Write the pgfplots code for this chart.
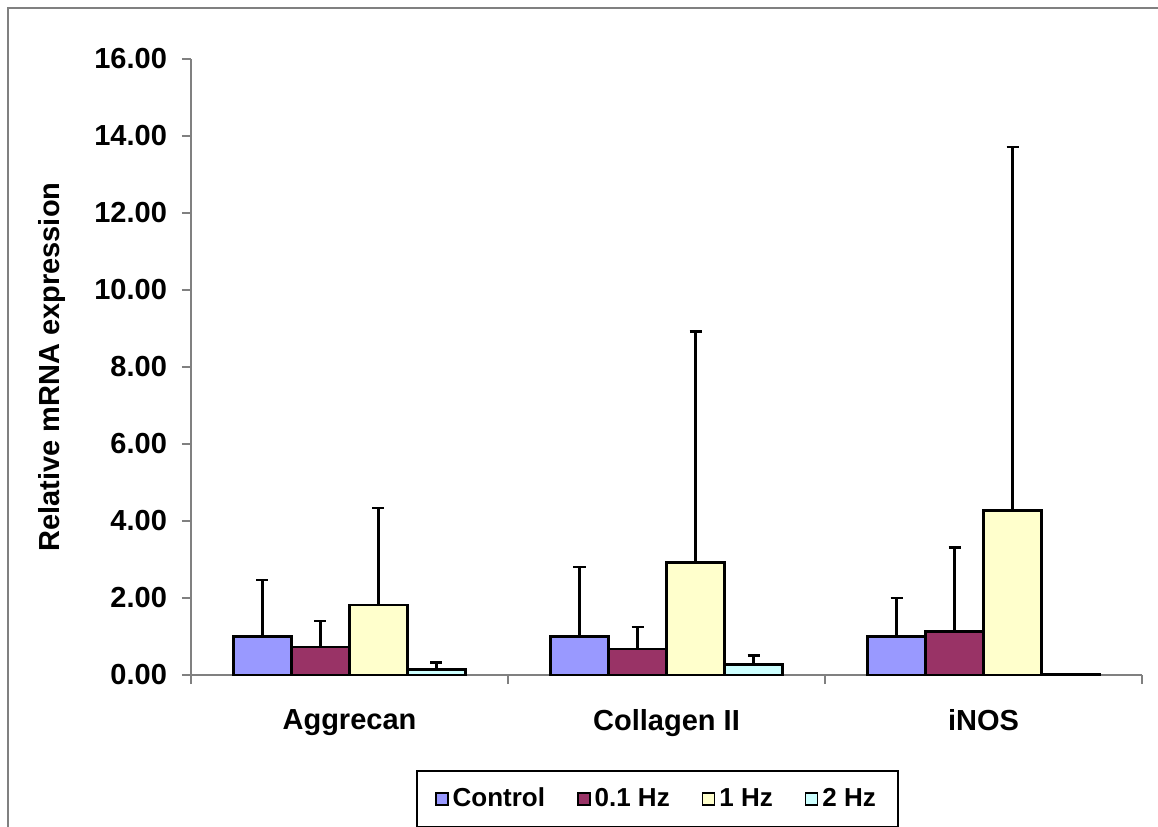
\documentclass[border=0pt]{standalone}
\usepackage{pgfplots}
\pgfplotsset{compat=1.18}
\usepackage{fontspec}
\setmainfont{Liberation Sans}
\definecolor{cCtrl}{HTML}{9999FF}
\definecolor{cA}{HTML}{993366}
\definecolor{cB}{HTML}{FFFFCC}
\definecolor{cC}{HTML}{CCFFFF}
\definecolor{axg}{HTML}{808080}
\begin{document}
\begin{tikzpicture}
\begin{axis}[
  scale only axis,
  width=475.5pt, height=308pt,
  xmin=0.5, xmax=3.5, ymin=0, ymax=16,
  axis x line*=bottom, axis y line*=left,
  axis line style={axg, line width=0.6pt},
  ybar=0pt, bar width=29pt,
  xtick={1,2,3},
  xticklabels={Aggrecan, Collagen II, iNOS},
  major x tick style={draw=none},
  minor xtick={0.5,1.5,2.5,3.5},
  minor tick length=4.5pt,
  minor x tick style={axg, line width=0.6pt},
  ytick={0,2,...,16},
  major tick length=4.5pt,
  y tick style={axg, line width=0.6pt},
  tick align=outside,
  /pgf/number format/.cd, fixed, fixed zerofill, precision=2, assume math mode=true,
  /pgfplots/.cd,
  yticklabel style={font=\bfseries\fontsize{14.5}{17}\selectfont, xshift=-4pt},
  xticklabel style={font=\bfseries\fontsize{14.5}{17}\selectfont, yshift=-9pt},
  ylabel={Relative mRNA expression},
  ylabel style={font=\bfseries\fontsize{14.5}{17}\selectfont, at={(axis description cs:-0.1462,0.5)}, anchor=center},
  legend columns=4,
  legend style={at={(0.4905,-0.2013)}, anchor=center, draw=black, line width=0.6pt,
    font=\bfseries\fontsize{13}{15}\selectfont, inner xsep=9pt, inner ysep=6.5pt,
    /tikz/every even column/.append style={column sep=14pt}},
  legend image code/.code={\draw[#1, line width=0.8pt] (0pt,-3pt) rectangle (6pt,3pt);},
  clip=false,
  error bars/y dir=plus, error bars/y explicit,
  error bars/error mark options={rotate=90, mark size=3pt, line width=1.2pt, black},
  error bars/error bar style={line width=1.2pt, black},
]
\addplot[fill=cCtrl, draw=black, line width=1.2pt] coordinates {(1,1.00) +- (0,1.46) (2,1.00) +- (0,1.80) (3,1.00) +- (0,1.00)};
\addplot[fill=cA, draw=black, line width=1.2pt] coordinates {(1,0.72) +- (0,0.69) (2,0.68) +- (0,0.57) (3,1.13) +- (0,2.18)};
\addplot[fill=cB, draw=black, line width=1.2pt] coordinates {(1,1.82) +- (0,2.51) (2,2.92) +- (0,6.00) (3,4.27) +- (0,9.45)};
\addplot[fill=cC, draw=black, line width=1.2pt] coordinates {(1,0.14) +- (0,0.18) (2,0.27) +- (0,0.24) (3,0.02) +- (0,0)};
\legend{Control, 0.1 Hz, 1 Hz, 2 Hz}
\coordinate (BL) at (rel axis cs:-0.20084,-0.24675);
\coordinate (TR) at (rel axis cs:1.01683,1.09578);
\coordinate (F1) at (rel axis cs:-0.19243,-0.27);
\coordinate (F2) at (rel axis cs:1.03,1.08279);
\end{axis}
\draw[axg, line width=1pt] (F1) rectangle (F2);
\pgfresetboundingbox
\path[use as bounding box] (BL) rectangle (TR);
\end{tikzpicture}
\end{document}
